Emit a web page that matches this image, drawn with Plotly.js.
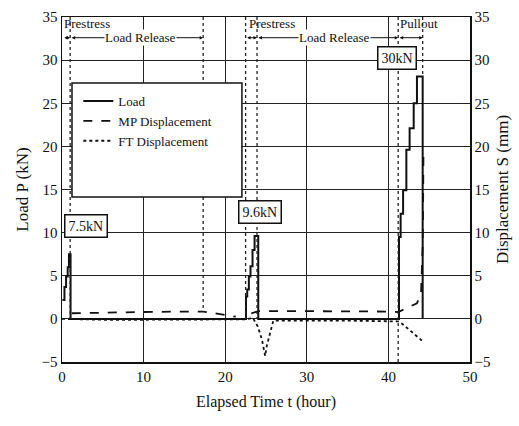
<!DOCTYPE html>
<html>
<head>
<meta charset="utf-8">
<script src="https://cdn.plot.ly/plotly-3.0.1.min.js"></script>
<style>html,body{margin:0;padding:0;background:#fff;}#chart{width:519px;height:426px;}</style>
</head>
<body>
<div id="chart"></div>
<script>
// Load P (kN), stepped
var loadTime = [0.05, 0.3, 0.5, 0.7, 0.85, 1.05, 22.55, 22.7, 22.9, 23.1, 23.35, 23.6, 24.05, 41.3, 41.5, 41.8, 42.2, 42.6, 43.1, 43.5, 44.2];
var loadValue = [2.2, 3.7, 4.9, 6.0, 7.5, 0, 2.6, 3.4, 4.9, 6.1, 8.0, 9.6, 0, 9.5, 12.2, 14.9, 19.6, 22.1, 25.0, 28.1, 0];
// MP displacement (mm)
var mpTime = [1.2, 5, 10, 15, 17.3, 19, 21.3, null, 23.2, 24.1, 28, 32, 36, 40, 41.2, 42.6, 43.5, 44.0, 44.1, 44.2, 44.25, 44.3];
var mpValue = [0.65, 0.75, 0.8, 0.85, 0.85, 0.6, 0.25, null, 0.65, 0.9, 0.9, 0.9, 0.9, 0.85, 0.8, 1.4, 1.8, 3.0, 5.3, 8.4, 13.0, 19.6];
// FT displacement (mm)
var ftTime = [0, 5, 10, 15, 20, 22.5, 23.4, 24.0, 24.5, 24.9, 25.1, 25.5, 25.9, 30, 35, 41.2, 41.6, 43.1, 44.2];
var ftValue = [0, -0.1, -0.1, -0.1, -0.1, -0.05, 0.1, -0.9, -2.4, -4.3, -3.1, -1.6, -0.2, -0.2, -0.2, -0.3, -0.5, -1.7, -2.6];
// Phase boundaries (hour) and labels
var phaseLines = [1.0, 17.3, 22.5, 23.9, 41.2, 44.2];
var phaseLineBottoms = [0, 0.8, 0, 0, -5, 28];
var peakLabels = ['7.5kN', '9.6kN', '30kN'];
var peakLabelX = [3.0, 24.3, 41.1];
var peakLabelY = [10.8, 12.4, 30.3];

var font = 'Liberation Serif, Times New Roman, serif';

var traces = [
  {x: loadTime, y: loadValue, name: 'Load', mode: 'lines', line: {color: '#111', width: 2, shape: 'hv'}, yaxis: 'y'},
  {x: mpTime, y: mpValue, name: 'MP Displacement', mode: 'lines', line: {color: '#111', width: 1.8, dash: 'dash'}, yaxis: 'y2', connectgaps: false},
  {x: ftTime, y: ftValue, name: 'FT Displacement', mode: 'lines', line: {color: '#111', width: 1.8, dash: 'dot'}, yaxis: 'y2'}
];

var shapes = [];
for (var i = 0; i < phaseLines.length; i++) {
  shapes.push({type: 'line', xref: 'x', yref: 'y', x0: phaseLines[i], x1: phaseLines[i], y0: 35, y1: phaseLineBottoms[i], line: {color: '#222', width: 1.3, dash: 'dot'}});
}
// legend frame
shapes.push({type: 'rect', xref: 'paper', yref: 'paper', x0: 0.0245, x1: 0.441, y0: 0.478, y1: 0.809, line: {color: '#111', width: 1.5}, fillcolor: 'white', layer: 'above'});

var annotations = [];
for (var j = 0; j < peakLabels.length; j++) {
  annotations.push({x: peakLabelX[j], y: peakLabelY[j], xref: 'x', yref: 'y', text: peakLabels[j], showarrow: false, font: {family: font, size: 14, color: '#111'}, bordercolor: '#111', borderwidth: 1.5, borderpad: 3, bgcolor: 'white'});
}
var arrows = [[0.1, 1.0], [1.0, 17.3], [22.5, 23.9], [23.9, 41.2], [41.2, 44.2]];
arrows.forEach(function (a) {
  annotations.push({x: a[1], y: 32.6, ax: a[0], ay: 32.6, xref: 'x', yref: 'y', axref: 'x', ayref: 'y', text: '', showarrow: true, arrowside: 'end+start', arrowhead: 2, arrowsize: 0.7, arrowwidth: 1, arrowcolor: '#111', standoff: 0, startstandoff: 0});
});
var topText = [
  {t: 'Prestress', x: 0.1, y: 34.2, anchor: 'left', bg: null},
  {t: 'Load Release', x: 9.6, y: 32.6, anchor: 'center', bg: 'white'},
  {t: 'Prestress', x: 22.8, y: 34.2, anchor: 'left', bg: null},
  {t: 'Load Release', x: 33.4, y: 32.6, anchor: 'center', bg: 'white'},
  {t: 'Pullout', x: 41.3, y: 34.2, anchor: 'left', bg: null}
];
topText.forEach(function (o) {
  var a = {x: o.x, y: o.y, xref: 'x', yref: 'y', text: o.t, showarrow: false, xanchor: o.anchor, font: {family: font, size: 13, color: '#111'}, borderpad: 0};
  if (o.bg) a.bgcolor = o.bg;
  annotations.push(a);
});

var axisCommon = {range: [-5, 35], dtick: 5, tick0: 0, showline: true, linecolor: '#111', linewidth: 1.5, ticks: '', tickfont: {family: font, size: 15, color: '#111'}, zeroline: false};

var layout = {
  width: 519, height: 426,
  margin: {l: 62, r: 49, t: 17, b: 64},
  paper_bgcolor: 'white', plot_bgcolor: 'white',
  font: {family: font, color: '#111'},
  showlegend: true,
  legend: {x: 0.04, y: 0.80, xanchor: 'left', yanchor: 'top', bgcolor: 'rgba(0,0,0,0)', borderwidth: 0, font: {family: font, size: 13, color: '#111'}},
  xaxis: {range: [0, 50], dtick: 10, showline: true, mirror: true, linecolor: '#111', linewidth: 1.5, ticks: '', showgrid: true, gridcolor: '#222', gridwidth: 1.2, zeroline: false, tickfont: {family: font, size: 15, color: '#111'}, title: {text: 'Elapsed Time t (hour)', font: {family: font, size: 16, color: '#111'}, standoff: 12}},
  yaxis: Object.assign({}, axisCommon, {showgrid: true, gridcolor: '#222', gridwidth: 1.2, title: {text: 'Load P (kN)', font: {family: font, size: 17, color: '#111'}, standoff: 8}}),
  yaxis2: Object.assign({}, axisCommon, {overlaying: 'y', side: 'right', showgrid: false, title: {text: 'Displacement S (mm)', font: {family: font, size: 17, color: '#111'}, standoff: 6}}),
  shapes: shapes,
  annotations: annotations
};

Plotly.newPlot('chart', traces, layout, {displayModeBar: false, staticPlot: true});
</script>
</body>
</html>
